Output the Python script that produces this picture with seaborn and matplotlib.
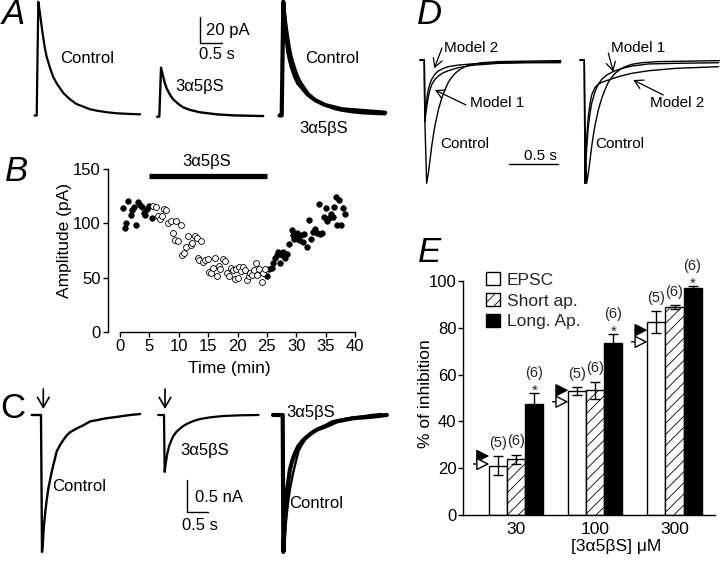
import numpy as np
import pandas as pd
import seaborn as sns
from matplotlib import pyplot as plt
from matplotlib.patches import Patch

# ---------------- data ----------------
# A: EPSCs (pA) vs time from onset (s)
a_ctrl_t = [-0.05, 0.0, 0.037, 0.076, 0.115, 0.153, 0.19, 0.23, 0.31, 0.38, 0.46, 0.54, 0.62, 0.77, 0.92, 1.08, 1.23, 1.39, 1.62, 1.85, 2.15, 2.39]
a_ctrl_i = [0, 0, 87.5, 78.6, 68.3, 59.4, 51.7, 45.2, 36.3, 29.8, 24.8, 20.9, 17.1, 12.4, 8.8, 6.8, 4.8, 3.7, 2.5, 1.7, 1.2, 0.9]
a_drug_t = [-0.05, 0.0, 0.04, 0.09, 0.13, 0.17, 0.25, 0.32, 0.44, 0.55, 0.71, 0.94, 1.33, 1.71, 2.40]
a_drug_i = [0, 0, 37.7, 30.8, 25.7, 21.8, 16.7, 13.4, 9.8, 7.2, 5.2, 3.4, 1.8, 1.0, 0.5]
a_norm_t = [-0.05, 0.0, 0.037, 0.06, 0.09, 0.12, 0.15, 0.19, 0.23, 0.31, 0.38, 0.46, 0.61, 0.77, 1.0, 1.39, 2.39]
a_norm_i = [0, 0, 87.5, 76, 65.8, 56.8, 49.1, 42.7, 37.5, 29.8, 24.8, 21.7, 15.8, 11.9, 8.1, 4.8, 2.2]

# B: amplitude (pA) vs time (min)
b_pre_t = [0.45, 0.85, 1.0, 1.4, 1.8, 2.0, 2.3, 2.7, 3.1, 3.4, 3.7, 4.0, 4.3, 4.65, 5.0, 5.4]
b_pre_a = [114, 96, 100, 121, 108, 112, 115, 99, 120, 117, 115, 110, 108, 113, 116, 105]
b_drug_t = [5.7, 6.2, 6.5, 6.8, 7.1, 7.5, 7.8, 8.2, 8.6, 9.0, 9.4, 9.6, 9.8, 10.3, 10.6, 10.9, 11.3, 11.6, 12.0, 12.3,
            12.8, 13.1, 13.3, 13.5, 13.8, 14.1, 14.5, 14.9, 15.2, 15.5, 15.9, 16.2, 16.5, 16.8, 17.1, 17.5, 17.8, 18.2,
            18.5, 18.9, 19.2, 19.5, 19.8, 20.0, 20.3, 20.6, 20.9, 21.3, 21.6, 21.9, 22.1, 22.5, 22.8, 23.2, 23.4, 23.7,
            24.1, 24.4, 24.7]
b_drug_a = [116, 115, 107, 104, 107, 113, 112, 100, 102, 91, 85, 102, 84, 99, 71, 73, 78, 88, 80, 82,
            88, 87, 68, 66, 84, 64, 66, 67, 55, 54, 59, 68, 51, 61, 58, 67, 65, 54,
            51, 59, 57, 49, 58, 50, 60, 56, 60, 57, 48, 51, 54, 52, 57, 63, 52, 58,
            46, 54, 58]
b_wash_t = [25.0, 25.4, 25.8, 26.1, 26.4, 26.7, 26.9, 27.2, 27.5, 27.8, 28.1, 28.4, 28.8, 29.2, 29.4, 29.6, 30.0, 30.2,
            30.5, 30.8, 31.1, 31.4, 31.8, 32.2, 32.5, 32.8, 33.2, 33.5, 33.8, 34.0, 34.3, 34.8, 35.1, 35.3, 35.6, 35.9,
            36.2, 36.4, 36.8, 37.0, 37.3, 37.6, 37.9, 38.3]
b_wash_a = [51, 58, 59, 63, 68, 71, 74, 63, 71, 74, 68, 72, 81, 94, 89, 86, 88, 91,
            85, 89, 83, 90, 78, 103, 86, 92, 95, 91, 118, 90, 91, 106, 114, 102, 105, 109,
            106, 115, 124, 99, 122, 99, 114, 109]
drug_on, drug_off = 5, 25

# C: currents (nA) vs time (s)
c_ctrl_t = [-0.22, 0.0, 0.024, 0.04, 0.071, 0.103, 0.135, 0.175, 0.214, 0.254, 0.294, 0.333, 0.373, 0.452, 0.532, 0.611, 0.69, 0.85, 1.01, 1.17, 1.33, 1.56, 1.80, 2.12, 2.36]
c_ctrl_i = [0, 0, -2.14, -2.03, -1.72, -1.51, -1.33, -1.15, -1.02, -0.89, -0.78, -0.68, -0.57, -0.47, -0.39, -0.32, -0.27, -0.21, -0.16, -0.10, -0.08, -0.05, -0.03, 0.0, 0.015]
c_drug_t = [-0.14, 0.0, 0.016, 0.04, 0.08, 0.12, 0.16, 0.22, 0.30, 0.42, 0.54, 0.70, 0.86, 1.10, 1.41, 1.81, 2.25]
c_drug_i = [0, 0, -0.89, -0.76, -0.60, -0.49, -0.42, -0.33, -0.26, -0.19, -0.14, -0.094, -0.063, -0.036, -0.016, -0.005, 0.0]
c_norm_t = [-0.23, 0.0, 0.016, 0.031, 0.055, 0.079, 0.11, 0.143, 0.17, 0.22, 0.29, 0.37, 0.49, 0.65, 0.81, 1.05, 1.29, 1.68, 2.08, 2.48]
c_norm_i = [0, 0, -2.14, -1.93, -1.61, -1.35, -1.15, -0.99, -0.86, -0.73, -0.60, -0.49, -0.39, -0.30, -0.23, -0.17, -0.10, -0.05, -0.03, 0.0]

# D: simulated currents (normalised) vs time (s)
d_ctrl_t = [-0.045, 0.0, 0.006, 0.024, 0.041, 0.059, 0.076, 0.093, 0.11, 0.144, 0.179, 0.213, 0.247, 0.282, 0.316, 0.368, 0.42, 0.488, 0.59, 0.76, 0.935, 1.40]
d_ctrl_i = [0, 0, -0.5, -1.0, -0.92, -0.81, -0.70, -0.61, -0.53, -0.405, -0.31, -0.24, -0.18, -0.14, -0.108, -0.076, -0.054, -0.035, -0.022, -0.013, -0.011, -0.005]
d1_m1_t = [-0.045, 0.0, 0.005, 0.014, 0.028, 0.041, 0.059, 0.076, 0.11, 0.144, 0.196, 0.247, 0.35, 0.49, 0.76, 1.11, 1.40]
d1_m1_i = [0, 0, -0.5, -0.446, -0.365, -0.30, -0.24, -0.20, -0.157, -0.13, -0.103, -0.087, -0.062, -0.043, -0.027, -0.022, -0.022]
d1_m2_t = [-0.045, 0.0, 0.005, 0.014, 0.028, 0.041, 0.059, 0.076, 0.11, 0.144, 0.196, 0.247, 0.35, 0.49, 0.76, 1.11, 1.40]
d1_m2_i = [0, 0, -0.46, -0.38, -0.30, -0.24, -0.19, -0.157, -0.114, -0.089, -0.068, -0.054, -0.041, -0.032, -0.022, -0.016, -0.013]
d2_m1_t = [-0.045, 0.0, 0.007, 0.017, 0.028, 0.041, 0.059, 0.076, 0.11, 0.144, 0.179, 0.23, 0.30, 0.385, 0.488, 0.66, 0.935, 1.38]
d2_m1_i = [0, 0, -1.0, -0.81, -0.676, -0.541, -0.432, -0.35, -0.257, -0.195, -0.157, -0.122, -0.092, -0.068, -0.049, -0.032, -0.027, -0.022]
d2_m2_t = [-0.045, 0.0, 0.007, 0.017, 0.028, 0.041, 0.059, 0.076, 0.11, 0.144, 0.179, 0.247, 0.35, 0.488, 0.66, 0.935, 1.38]
d2_m2_i = [0, 0, -1.0, -0.757, -0.595, -0.46, -0.35, -0.284, -0.222, -0.197, -0.181, -0.162, -0.135, -0.108, -0.087, -0.068, -0.054]

# E: % inhibition
conc = ['30', '100', '300']
groups = ['EPSC', 'Short ap.', 'Long. Ap.']
epsc = [21.1, 53.0, 82.3]
epsc_err = [4.0, 1.6, 4.7]
short = [23.8, 53.3, 89.0]
short_err = [2.0, 3.7, 0.8]
long_ = [47.4, 73.6, 97.1]
long_err = [4.6, 3.6, 0.8]
n_cells = [[5, 5, 5], [6, 6, 6], [6, 6, 6]]
pred_filled = [25.2, 53.3, 79.0]
pred_open = [21.8, 48.4, 74.0]

# ---------------- style ----------------
W, H = 720, 562
sns.set_theme(style='ticks')
plt.rcParams['font.family'] = ['Liberation Sans', 'DejaVu Sans']
plt.rcParams['axes.linewidth'] = 1.0
plt.rcParams['hatch.linewidth'] = 0.6
plt.rcParams['xtick.major.width'] = 1.0
plt.rcParams['ytick.major.width'] = 1.0
plt.rcParams['xtick.color'] = 'black'
plt.rcParams['ytick.color'] = 'black'
plt.rcParams['axes.edgecolor'] = 'black'

fig = plt.figure(figsize=(7.2, 5.62), dpi=100)


def px_axes(left, top, right, bottom):
    return fig.add_axes([left / W, 1 - bottom / H, (right - left) / W, (bottom - top) / H])


def trace_ax(ox, oy, sx, sy, xlim, ylim):
    # ox, oy: pixel position of t=0 on the baseline; sx, sy: pixels per data unit
    ax = px_axes(ox + xlim[0] * sx, oy - ylim[1] * sy, ox + xlim[1] * sx, oy - ylim[0] * sy)
    ax.set_xlim(xlim)
    ax.set_ylim(ylim)
    ax.axis('off')
    return ax


def label(x, y, s, size=11.5, ha='center', va='center', **kw):
    fig.text(x / W, 1 - y / H, s, fontsize=size, ha=ha, va=va, color='black', **kw)


def trace(ax, t, i, lw=1.4):
    sns.lineplot(x=t, y=i, ax=ax, color='black', lw=lw, sort=False, estimator=None, clip_on=False)


# ---------------- A ----------------
axA = dict(sx=43.3, sy=1.3, xlim=(-0.2, 2.6), ylim=(-10, 95))
ax = trace_ax(36.7, 115.5, **axA)
trace(ax, a_ctrl_t, a_ctrl_i, 1.6)
ax = trace_ax(159.3, 116.7, **axA)
trace(ax, a_drug_t, a_drug_i, 1.7)
ax.plot([0.94, 0.94, 1.44], [76.5, 56.5, 56.5], color='black', lw=1.0, clip_on=False)
ax = trace_ax(281.7, 115.5, **axA)
trace(ax, a_norm_t, a_norm_i, 3.0)
trace(ax, a_ctrl_t, a_ctrl_i, 1.6)

label(2, 15, 'A', 25, ha='left', style='italic')
label(87, 58.5, 'Control', 12)
label(200, 86.5, '3α5βS', 12)
label(332, 58.5, 'Control', 12)
label(323.5, 129, '3α5βS', 12)
label(206, 30.5, '20 pA', 12, ha='left')
label(199, 54.5, '0.5 s', 12, ha='left')

# ---------------- B ----------------
axb = px_axes(120, 169.3, 355, 331.7)
df_pre = pd.DataFrame({'t': b_pre_t + b_wash_t, 'amp': b_pre_a + b_wash_a})
df_drug = pd.DataFrame({'t': b_drug_t, 'amp': b_drug_a})
sns.scatterplot(data=df_pre, x='t', y='amp', ax=axb, color='black', edgecolor='black', s=16, linewidth=0.5, clip_on=False)
sns.scatterplot(data=df_drug, x='t', y='amp', ax=axb, color='white', edgecolor='black', s=18, linewidth=0.6, clip_on=False)
axb.plot([drug_on, drug_off], [143.5, 143.5], color='black', lw=3.8, solid_capstyle='butt', clip_on=False)
axb.set_xlim(0, 40)
axb.set_ylim(0, 150)
axb.set_xticks(range(0, 41, 5))
axb.set_yticks([0, 50, 100, 150])
axb.set_xlabel('')
axb.set_ylabel('')
axb.tick_params(labelsize=12, length=3.5, pad=2)
sns.despine(ax=axb)
axb.spines['left'].set_position(('outward', 8.4))
axb.spines['left'].set_bounds(0, 150)
axb.spines['bottom'].set_bounds(0, 40)
axb.set_facecolor('none')
label(5, 171, 'B', 25, ha='left', style='italic')
label(207, 161.7, '3α5βS', 12)
label(64.5, 240.5, 'Amplitude (pA)', 12.5, rotation=90)
label(229, 368, 'Time (min)', 12.5)

# ---------------- C ----------------
axC = dict(sx=42, sy=64, xlim=(-0.3, 2.6), ylim=(-2.3, 0.2))
ax = trace_ax(41, 415, **axC)
trace(ax, c_ctrl_t, c_ctrl_i, 1.7)
ax = trace_ax(164, 415, **axC)
trace(ax, c_drug_t, c_drug_i, 1.6)
ax.plot([0.555, 0.555, 1.055], [-1.02, -1.52, -1.52], color='black', lw=1.0, clip_on=False)
ax = trace_ax(282.7, 415, **axC)
trace(ax, c_norm_t, c_norm_i, 3.0)
trace(ax, c_ctrl_t, c_ctrl_i, 1.7)

label(0, 408.5, 'C', 25, ha='left')
label(79, 486.5, 'Control', 12)
label(205, 450, '3α5βS', 12)
label(311, 412.5, '3α5βS', 12)
label(316.5, 503.5, 'Control', 12)
label(195, 497, '0.5 nA', 12, ha='left')
label(182, 526, '0.5 s', 12, ha='left')

# ---------------- D ----------------
axD = dict(sx=97.4, sy=123.3, xlim=(-0.1, 1.45), ylim=(-1.05, 0.1))
ax = trace_ax(424.3, 60, **axD)
trace(ax, d_ctrl_t, d_ctrl_i, 1.0)
trace(ax, d1_m1_t, d1_m1_i, 1.0)
trace(ax, d1_m2_t, d1_m2_i, 1.0)
ax.plot([0.873, 1.373], [-0.846, -0.846], color='black', lw=1.0, clip_on=False)
ax = trace_ax(584.3, 60, **axD)
trace(ax, d_ctrl_t, d_ctrl_i, 1.0)
trace(ax, d2_m1_t, d2_m1_i, 1.0)
trace(ax, d2_m2_t, d2_m2_i, 1.0)

label(417, 15, 'D', 25, ha='left', style='italic')
label(471, 47.5, 'Model 2', 11)
label(497, 103.5, 'Model 1', 11)
label(465, 144, 'Control', 11)
label(540, 156.5, '0.5 s', 11)
label(638, 47.5, 'Model 1', 11)
label(677.5, 103.5, 'Model 2', 11)
label(620, 144, 'Control', 11)

# ---------------- E ----------------
axe = px_axes(463.3, 281, 715, 515)
df_e = pd.DataFrame({'conc': conc * 3,
                     'group': [g for g in groups for _ in conc],
                     'value': epsc + short + long_})
sns.barplot(data=df_e, x='conc', y='value', hue='group', order=conc, hue_order=groups,
            palette={'EPSC': 'white', 'Short ap.': 'white', 'Long. Ap.': 'black'}, saturation=1,
            edgecolor='black', linewidth=1, width=0.684, errorbar=None, legend=False, ax=axe)
errs = [epsc_err, short_err, long_err]
for cont, err, ns, g in zip(axe.containers, errs, n_cells, groups):
    xs = [b.get_x() + b.get_width() / 2 for b in cont]
    hs = [b.get_height() for b in cont]
    if g == 'Short ap.':
        for b in cont:
            b.set_hatch('///')
    axe.errorbar(xs, hs, yerr=err, fmt='none', ecolor='black', elinewidth=1, capsize=3.6, capthick=1, zorder=3)
    for x, h, e, n in zip(xs, hs, err, ns):
        if g == 'Long. Ap.':
            axe.annotate('*', (x, h + e), xytext=(0, 1.5), textcoords='offset points', ha='center', va='center',
                         fontsize=11, annotation_clip=False)
            axe.annotate(f'({n})', (x, h + e), xytext=(0, 14.5), textcoords='offset points', ha='center',
                         va='center', fontsize=10.5, annotation_clip=False)
        else:
            axe.annotate(f'({n})', (x, h + e), xytext=(0, 9.5), textcoords='offset points', ha='center',
                         va='center', fontsize=10.5, annotation_clip=False)

for i, (f, o) in enumerate(zip(pred_filled, pred_open)):
    x_edge = i - 0.684 / 2
    axe.annotate('', xy=(x_edge, f), xytext=(x_edge - 0.16, f),
                 arrowprops=dict(arrowstyle='-|>,head_length=0.65,head_width=0.33', fc='black', ec='black', lw=1,
                                 shrinkA=0, shrinkB=0), annotation_clip=False)
    axe.annotate('', xy=(x_edge, o), xytext=(x_edge - 0.2, o),
                 arrowprops=dict(arrowstyle='-|>,head_length=0.65,head_width=0.33', fc='white', ec='black', lw=1,
                                 shrinkA=0, shrinkB=0), annotation_clip=False)

axe.set_xlim(-0.67, 2.512)
axe.set_ylim(0, 100)
axe.set_yticks(range(0, 101, 20))
axe.set_xlabel('')
axe.set_ylabel('')
axe.tick_params(axis='y', labelsize=12, length=3.5, pad=1.5)
axe.tick_params(axis='x', labelsize=12.5, length=0, pad=5)
sns.despine(ax=axe)
axe.set_facecolor('none')

handles = [Patch(facecolor='white', edgecolor='black', lw=1),
           Patch(facecolor='white', edgecolor='black', lw=1, hatch='///'),
           Patch(facecolor='black', edgecolor='black', lw=1)]
axe.legend(handles, groups, loc='upper left', bbox_to_anchor=(486 / W, 1 - 272 / H), bbox_transform=fig.transFigure,
           frameon=False, fontsize=12.5, borderpad=0, borderaxespad=0, handlelength=0.8, handleheight=0.8,
           handletextpad=0.4, labelspacing=0.3)

label(418, 253, 'E', 25, ha='left', style='italic')
label(425, 393.5, '% of inhibition', 12.5, rotation=90)
label(616, 546.5, '[3α5βS] μM', 12.5)

# arrows (figure pixels, y measured from the top)
ax0 = fig.axes[0]


def fig_arrow(x0, y0, x1, y1, style='->,head_length=0.5,head_width=0.28', lw=0.9):
    ax0.annotate('', xy=(x1, H - y1), xytext=(x0, H - y0), xycoords='figure pixels', textcoords='figure pixels',
                 arrowprops=dict(arrowstyle=style, lw=lw, color='black', shrinkA=0, shrinkB=0), annotation_clip=False)


fig_arrow(43.3, 389, 43.3, 409, '->,head_length=0.6,head_width=0.35', 1.2)
fig_arrow(165, 389, 165, 409, '->,head_length=0.6,head_width=0.35', 1.2)
fig_arrow(442, 48, 434.3, 68.3)
fig_arrow(466, 105, 435, 90)
fig_arrow(608.3, 53, 613.3, 71.7)
fig_arrow(663.3, 95, 633.3, 80)

fig.savefig('out.png', dpi=100, facecolor='white')
